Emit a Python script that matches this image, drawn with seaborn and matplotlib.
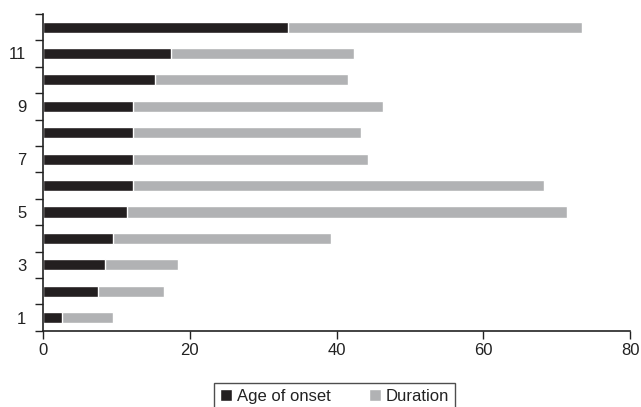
import numpy as np
import pandas as pd
import matplotlib.pyplot as plt
import seaborn as sns
from matplotlib.patches import Patch

# Values (cases 1..12)
cases = [str(i) for i in range(1, 13)]
age_of_onset = [2.6, 7.5, 8.4, 9.6, 11.4, 12.3, 12.3, 12.3, 12.3, 15.3, 17.5, 33.4]
duration = [6.9, 9.0, 10.0, 29.6, 60.0, 56.0, 32.0, 31.0, 34.0, 26.3, 24.9, 40.0]

df = pd.DataFrame({"case": cases, "onset": age_of_onset, "duration": duration})
df["total"] = df["onset"] + df["duration"]
order = cases[::-1]  # case 12 on top

sns.set_style("white")
plt.rcParams["font.family"] = ["Liberation Sans", "DejaVu Sans"]

black = "#231f20"
grey = "#b1b2b4"

fig = plt.figure(figsize=(6.41, 4.07), dpi=100)
ax = fig.add_axes([0.067, 0.187, 0.916, 0.779])

sns.barplot(data=df, x="total", y="case", order=order, orient="h",
            color=grey, width=0.42, saturation=1, ax=ax)
sns.barplot(data=df, x="onset", y="case", order=order, orient="h",
            color=black, width=0.42, saturation=1, ax=ax)

ax.set_xlim(0, 80)
ax.set_ylim(11.5, -0.5)
ax.set_xticks([0, 20, 40, 60, 80])
ax.set_xlabel("")
ax.set_ylabel("")

# category boundaries carry the tick marks, every other case gets a label
n = len(order)
ax.set_yticks(np.arange(-0.5, n, 1.0))
ax.set_yticklabels([])
ax.set_yticks(np.arange(n), minor=True)
ax.set_yticklabels([c if int(c) % 2 == 1 else "" for c in order], minor=True)
ax.tick_params(axis="y", which="major", left=True, length=6, width=1, color="#222222")
ax.tick_params(axis="y", which="minor", left=False, length=0, pad=12, labelsize=12,
               labelcolor="#222222")
ax.tick_params(axis="x", bottom=True, length=6, width=1, color="#222222", labelsize=12,
               pad=3, labelcolor="#222222")

sns.despine(ax=ax)
for s in ["left", "bottom"]:
    ax.spines[s].set_color("#222222")
    ax.spines[s].set_linewidth(1.2)

handles = [Patch(facecolor=black, label="Age of onset"),
           Patch(facecolor=grey, label="Duration")]
leg = fig.legend(handles=handles, loc="upper center", bbox_to_anchor=(0.522, 0.059),
                 ncol=2, frameon=True, fancybox=False, fontsize=12,
                 handlelength=0.72, handleheight=0.72, handletextpad=0.3,
                 columnspacing=2.3, borderpad=0.35, borderaxespad=0,
                 labelcolor="#222222")
leg.get_frame().set_edgecolor("#222222")
leg.get_frame().set_linewidth(1.0)

fig.savefig("out.png", dpi=100)
